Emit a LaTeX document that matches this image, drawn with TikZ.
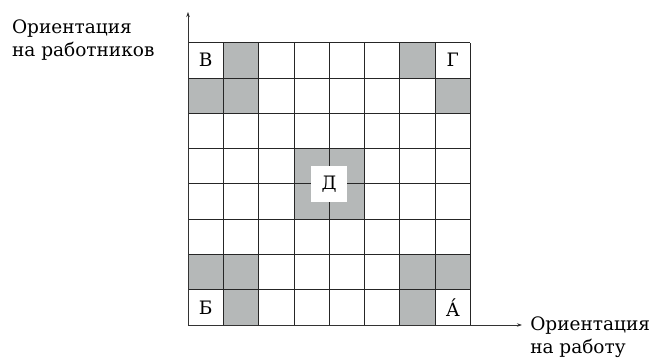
\documentclass[tikz,border=0pt]{standalone}
\usepackage{fontspec}
\setmainfont{DejaVu Serif}
\usepackage{xcolor}
\usetikzlibrary{arrows.meta,positioning}
\definecolor{kletkaseraya}{RGB}{181,184,184}

\begin{document}
\begin{tikzpicture}[
    x=35.3pt,y=35.3pt,
    kletka/.style={fill=kletkaseraya},
    setka/.style={draw=black!85,line width=0.8pt},
    os/.style={-{Stealth[length=5pt,width=3.5pt]},line width=0.6pt,draw=black!80},
    bukva/.style={font=\fontsize{18.5}{22}\selectfont,inner sep=0pt},
    podpis/.style={font=\fontsize{18.5}{23}\selectfont,align=left,inner sep=0pt}
]
\useasboundingbox (-5.326,-0.963) rectangle (13.286,9.207);
% grey cells: column/row, counted from the lower left
\foreach \c/\r in {2/8,7/8,1/7,2/7,8/7,1/2,2/2,7/2,8/2,2/1,7/1,4/4,5/4,4/5,5/5}
  \fill[kletka] (\c-1,\r-1) rectangle (\c,\r);
\foreach \i in {0,...,8} {
  \draw[setka] (\i,0) -- (\i,8);
  \draw[setka] (0,\i) -- (8,\i);
}

\node[bukva] (v) at (0.5,7.5) {В};
\node[bukva] (g) at (7.5,7.5) {Г};
\node[bukva] (b) at (0.5,0.5) {Б};
\node[bukva] (a) at (7.5,0.5) {А́};
\node[bukva,fill=white,minimum size=36pt] (d) at (4,4) {Д};

% axes
\coordinate (o) at (0,0);
\coordinate (verh) at (0,8.867);
\coordinate (pravo) at (9.46,0);
\draw[os] (o) -- (verh);
\draw[os] (o) -- (pravo);

\node[podpis,anchor=north west] (rabotniki) at (-4.99,8.64) {Ориентация\\на работников};
\node[podpis,anchor=north west] (rabota) at (9.69,0.25) {Ориентация\\на работу};
\end{tikzpicture}
\end{document}
